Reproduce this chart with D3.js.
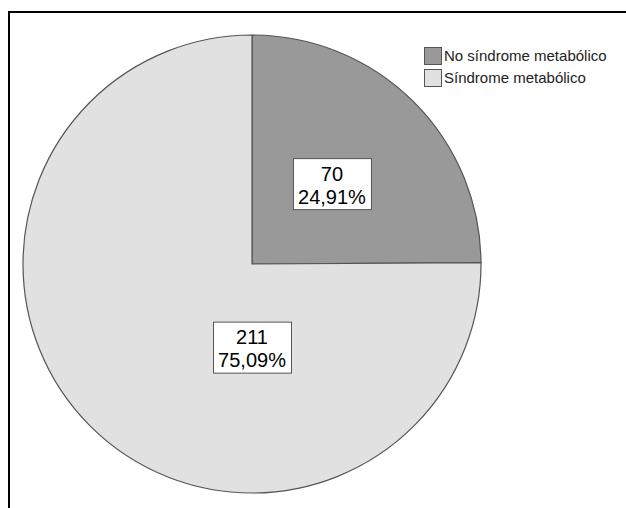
<!DOCTYPE html>
<html>
<head>
<meta charset="utf-8">
<script src="https://cdn.jsdelivr.net/npm/d3@7"></script>
<style>
  html, body { margin: 0; padding: 0; background: #fff; }
  svg { display: block; }
</style>
</head>
<body>
<svg id="chart" width="626" height="508"></svg>
<script>
// Categories, counts, percentage labels and slice colours
const categories = ["No síndrome metabólico", "Síndrome metabólico"];
const counts = [70, 211];
const percentLabels = ["24,91%", "75,09%"];
const colors = ["#999999", "#e1e1e1"];

const svg = d3.select("#chart");
const W = 626, H = 508;
const FONT = "'Liberation Sans', Arial, sans-serif";

// Chart frame (only top and left edges fall inside the view)
svg.append("path")
  .attr("d", `M9,${H} V12 H${W}`)
  .attr("fill", "none")
  .attr("stroke", "#000")
  .attr("stroke-width", 2);

const cx = 252, cy = 264, r = 229;

const pie = d3.pie().sort(null).value(d => d)
  .startAngle(0).endAngle(2 * Math.PI);
const arcs = pie(counts);
const arc = d3.arc().innerRadius(0).outerRadius(r);

const g = svg.append("g").attr("transform", `translate(${cx},${cy})`);

g.selectAll("path.slice")
  .data(arcs)
  .join("path")
  .attr("class", "slice")
  .attr("d", arc)
  .attr("fill", (d, i) => colors[i])
  .attr("stroke", "#555")
  .attr("stroke-width", 1.2);

// Label anchor: small slice uses its centroid direction, the large one sits below the centre
function labelPos(d, i) {
  if (i === 0) {
    const mid = (d.startAngle + d.endAngle) / 2;
    const rr = r * 0.495;
    return [Math.sin(mid) * rr, -Math.cos(mid) * rr];
  }
  return [0, r * 0.363];
}

const fontSize = 20;
const labels = g.selectAll("g.lbl")
  .data(arcs)
  .join("g")
  .attr("class", "lbl")
  .attr("transform", (d, i) => {
    const [x, y] = labelPos(d, i);
    return `translate(${x},${y})`;
  });

labels.each(function(d, i) {
  const sel = d3.select(this);
  const boxW = 78, boxH = 51;
  sel.append("rect")
    .attr("x", -boxW / 2 + 0.5)
    .attr("y", -boxH / 2 + 0.5)
    .attr("width", boxW)
    .attr("height", boxH)
    .attr("fill", "#fff")
    .attr("stroke", "#555")
    .attr("stroke-width", 1);
  const t = sel.append("text")
    .attr("text-anchor", "middle")
    .attr("font-family", FONT)
    .attr("font-size", fontSize)
    .attr("fill", "#000");
  t.append("tspan").attr("x", 0).attr("y", -3).text(counts[i]);
  t.append("tspan").attr("x", 0).attr("y", 20).text(percentLabels[i]);
});

// Legend
const legend = svg.append("g").attr("transform", "translate(424,47)");
const item = legend.selectAll("g")
  .data(categories)
  .join("g")
  .attr("transform", (d, i) => `translate(0,${i * 22})`);
item.append("rect")
  .attr("x", 0.5).attr("y", 0.5)
  .attr("width", 17).attr("height", 17)
  .attr("fill", (d, i) => colors[i])
  .attr("stroke", "#555")
  .attr("stroke-width", 1);
item.append("text")
  .attr("x", 20)
  .attr("y", 14)
  .attr("font-family", FONT)
  .attr("font-size", 15)
  .attr("fill", "#222")
  .text(d => d);
</script>
</body>
</html>
